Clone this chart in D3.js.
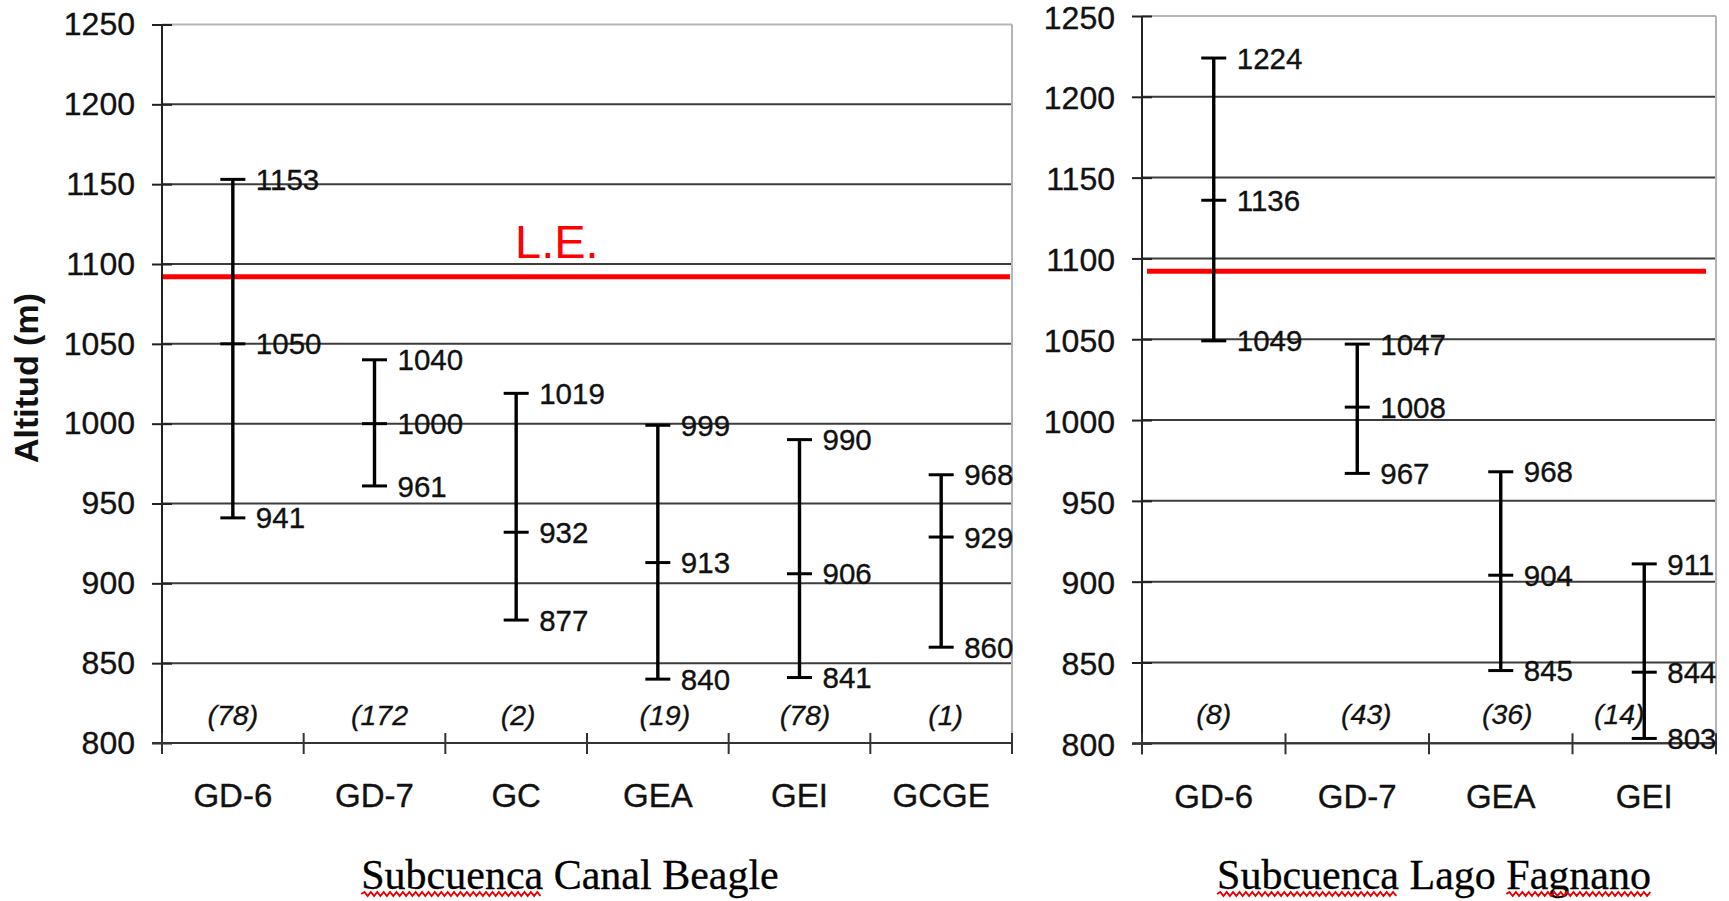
<!DOCTYPE html>
<html>
<head>
<meta charset="utf-8">
<script src="https://cdn.jsdelivr.net/npm/d3@7"></script>
<style>
  html, body { margin: 0; padding: 0; background: #fff; }
  svg { display: block; }
  text { font-family: "Liberation Sans", Arial, sans-serif; }
</style>
</head>
<body>
<svg id="chart" width="1729" height="901"></svg>
<script>
// ---------- DATA ----------
const beagleCats   = ["GD-6", "GD-7", "GC", "GEA", "GEI", "GCGE"];
const beagleMax    = [1153, 1040, 1019, 999, 990, 968];
const beagleMean   = [1050, 1000, 932, 913, 906, 929];
const beagleMin    = [941, 961, 877, 840, 841, 860];
const beagleCounts = ["(78)", "(172", "(2)", "(19)", "(78)", "(1)"];

const fagnanoCats   = ["GD-6", "GD-7", "GEA", "GEI"];
const fagnanoMax    = [1224, 1047, 968, 911];
const fagnanoMean   = [1136, 1008, 904, 844];
const fagnanoMin    = [1049, 967, 845, 803];
const fagnanoCounts = ["(8)", "(43)", "(36)", "(14)"];

const yTicks = [800, 850, 900, 950, 1000, 1050, 1100, 1150, 1200, 1250];
const leLevel = 1092;       // L.E. line altitude
const countLevel = 818;     // altitude where sample counts sit
const yTitle = "Altitud (m)";
const leLabel = "L.E.";
const titleBeagle = ["Subcuenca", "Canal", "Beagle"];
const titleFagnano = ["Subcuenca", "Lago", "Fagnano"];
const underlinedWords = { beagle: [0], fagnano: [0, 2] };

// ---------- DRAW ----------
const svg = d3.select("#chart");

function panel(cfg) {
  const g = svg.append("g");
  const x = d3.scaleBand().domain(cfg.cats).range([cfg.x0, cfg.x1]).padding(0);
  const y = d3.scaleLinear().domain([800, 1250]).range([cfg.yb, cfg.yt]);

  // gridlines
  g.selectAll("line.grid").data(yTicks).enter().append("line")
    .attr("x1", cfg.x0).attr("x2", cfg.x1)
    .attr("y1", d => y(d)).attr("y2", d => y(d))
    .attr("stroke", d => d === 1250 ? "#b5b5b5" : "#3c3c3c")
    .attr("stroke-width", 2);
  // right border
  g.append("line").attr("x1", cfg.x1).attr("x2", cfg.x1)
    .attr("y1", y(1250)).attr("y2", y(800))
    .attr("stroke", "#b5b5b5").attr("stroke-width", 2);

  // y axis (labels + cross ticks)
  const ya = g.append("g").attr("transform", `translate(${cfg.x0},0)`)
    .call(d3.axisLeft(y).tickValues(yTicks).tickSize(10).tickPadding(17).tickFormat(d3.format("d")));
  ya.select(".domain").remove();
  ya.selectAll(".tick line").attr("stroke", "#222").attr("stroke-width", 2).attr("x2", 10).attr("x1", -10);
  ya.selectAll(".tick text").attr("font-size", 32).attr("fill", "#111")
    .attr("stroke", "#111").attr("stroke-width", 0.35)
    .attr("dy", cfg.tickDy);

  // x axis: category labels
  const xa = g.append("g").attr("transform", `translate(0,${y(800)})`)
    .call(d3.axisBottom(x).tickSize(0).tickPadding(41));
  xa.select(".domain").remove();
  xa.selectAll(".tick text").attr("font-size", 33).attr("fill", "#111")
    .attr("stroke", "#111").attr("stroke-width", 0.35);

  // axis lines
  g.append("line").attr("x1", cfg.x0).attr("x2", cfg.x0)
    .attr("y1", y(1250)).attr("y2", y(800) + 11)
    .attr("stroke", "#222").attr("stroke-width", 2);
  g.append("line").attr("x1", cfg.x0 - 10).attr("x2", cfg.x1)
    .attr("y1", y(800)).attr("y2", y(800))
    .attr("stroke", "#333").attr("stroke-width", 2);
  // category boundary cross ticks
  const bounds = d3.range(cfg.cats.length + 1).map(i => cfg.x0 + i * x.step());
  g.selectAll("line.xt").data(bounds).enter().append("line")
    .attr("x1", d => d).attr("x2", d => d)
    .attr("y1", y(800) - 10).attr("y2", y(800) + 11)
    .attr("stroke", "#333").attr("stroke-width", 2);

  // L.E. line
  g.append("line")
    .attr("x1", cfg.x0 + cfg.leInsetL).attr("x2", cfg.x1 - cfg.leInsetR)
    .attr("y1", y(leLevel)).attr("y2", y(leLevel))
    .attr("stroke", "#ff0000").attr("stroke-width", 5);

  // error bars
  const rows = cfg.cats.map((c, i) => ({c, max: cfg.max[i], mean: cfg.mean[i], min: cfg.min[i], n: cfg.counts[i]}));
  const cx = d => x(d.c) + x.bandwidth() / 2;
  const cap = 12.5;
  const eb = g.selectAll("g.eb").data(rows).enter().append("g");
  eb.append("line").attr("x1", cx).attr("x2", cx)
    .attr("y1", d => y(d.max)).attr("y2", d => y(d.min))
    .attr("stroke", "#000").attr("stroke-width", 3.4);
  ["max", "mean", "min"].forEach(k => {
    eb.append("line").attr("x1", d => cx(d) - cap).attr("x2", d => cx(d) + cap)
      .attr("y1", d => y(d[k])).attr("y2", d => y(d[k]))
      .attr("stroke", "#000").attr("stroke-width", 3);
    eb.append("text").attr("x", d => cx(d) + 23).attr("y", d => y(d[k]))
      .attr("dy", "0.36em").attr("font-size", 29.5).attr("fill", "#111")
      .attr("stroke", "#111").attr("stroke-width", 0.35)
      .text(d => d[k]);
  });
  eb.append("text")
    .attr("x", (d, i) => cx(d) + (cfg.countNudge[i] || 0))
    .attr("y", y(countLevel)).attr("dy", "0.36em")
    .attr("text-anchor", "middle").attr("font-size", 28.5).attr("font-style", "italic")
    .attr("fill", "#111").attr("stroke", "#111").attr("stroke-width", 0.3)
    .text(d => d.n);

  // subtitle
  const t = svg.append("text").attr("x", cfg.titleX).attr("y", 889)
    .attr("text-anchor", "middle")
    .style("font-family", "'Liberation Serif', 'Times New Roman', serif")
    .attr("font-size", 42).attr("fill", "#000")
    .attr("stroke", "#000").attr("stroke-width", 0.3)
    .text(cfg.title.join(" "));
  // red wavy spell-check underlines
  const node = t.node();
  let idx = 0;
  const starts = cfg.title.map(w => { const s = idx; idx += w.length + 1; return s; });
  cfg.underline.forEach(wi => {
    const s = starts[wi], e = s + cfg.title[wi].length - 1;
    const xs = node.getStartPositionOfChar(s).x, xe = node.getEndPositionOfChar(e).x;
    const yU = 894;
    let p = `M${xs},${yU}`;
    let up = true;
    for (let xx = xs + 3.2; xx <= xe; xx += 3.2) { p += `L${xx},${yU + (up ? -2 : 2)}`; up = !up; }
    svg.append("path").attr("d", p).attr("fill", "none").attr("stroke", "#e60000").attr("stroke-width", 2);
  });
  return {x, y, g};
}

const left = panel({
  cats: beagleCats, max: beagleMax, mean: beagleMean, min: beagleMin, counts: beagleCounts,
  x0: 162, x1: 1012, yb: 743, yt: 24.5, leInsetL: 1, leInsetR: 2, tickDy: "0.32em",
  countNudge: [0, 5, 2, 7, 5.5, 4.5],
  title: titleBeagle, titleX: 570, underline: underlinedWords.beagle
});
const right = panel({
  cats: fagnanoCats, max: fagnanoMax, mean: fagnanoMean, min: fagnanoMin, counts: fagnanoCounts,
  x0: 1142, x1: 1716, yb: 743.3, yt: 16, leInsetL: 5, leInsetR: 10, tickDy: "0.38em",
  countNudge: [0, 9, 6.5, -25],
  title: titleFagnano, titleX: 1434, underline: underlinedWords.fagnano
});

// L.E. label
left.g.append("text").attr("x", 515).attr("y", left.y(leLevel) - 19)
  .attr("font-size", 47).attr("fill", "#ff0000").text(leLabel);

// y-axis title
svg.append("text")
  .attr("transform", `translate(38,${378}) rotate(-90)`)
  .attr("text-anchor", "middle").attr("font-size", 34).attr("font-weight", "bold")
  .attr("fill", "#111").text(yTitle);
</script>
</body>
</html>
